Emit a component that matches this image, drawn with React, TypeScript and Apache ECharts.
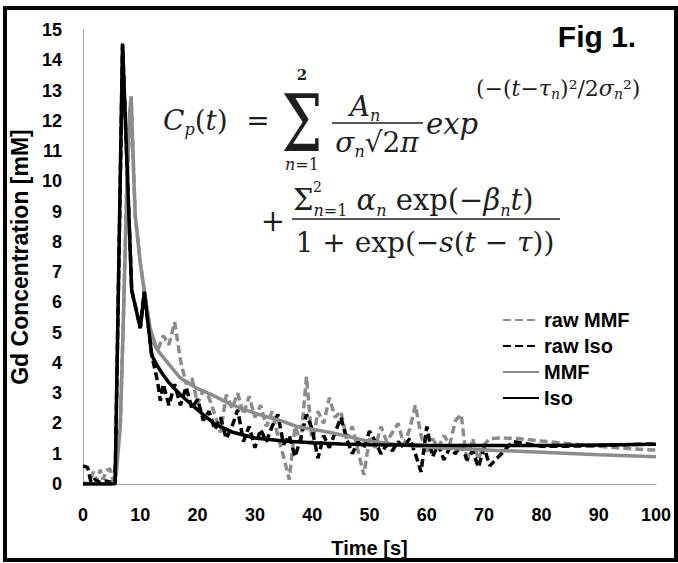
import React, { useEffect, useRef } from "react";
import * as echarts from "echarts";

// ---- data ----
const isoTime = [0, 1, 2, 3, 4, 5, 5.6, 6.9, 8.5, 10, 10.7, 12, 13, 14, 15, 17, 20, 23, 26, 30, 35, 40, 45, 50, 60, 70, 80, 90, 100];
const isoConc = [0, 0, 0, 0, 0, 0, 0, 14.55, 6.4, 5.15, 6.35, 4.25, 3.9, 3.6, 3.35, 2.95, 2.45, 1.98, 1.72, 1.52, 1.42, 1.36, 1.32, 1.3, 1.28, 1.27, 1.27, 1.29, 1.31];

const mmfTime = [0, 1, 2, 3, 4, 5, 5.8, 6.5, 7, 7.6, 8.1, 8.4, 8.8, 9.1, 10, 11, 11.7, 12.9, 15, 17, 20, 22.8, 25.7, 28.6, 31.5, 34.4, 37.3, 43.2, 49, 55, 60.7, 72.3, 80, 90, 100];
const mmfConc = [0, 0, 0, 0, 0, 0, 0.3, 1.9, 5.1, 9.5, 12.2, 12.8, 10.5, 8.9, 7.3, 6.0, 5.15, 4.45, 3.95, 3.5, 3.15, 2.92, 2.64, 2.43, 2.25, 2.1, 1.9, 1.7, 1.45, 1.3, 1.21, 1.11, 1.05, 0.97, 0.9];

const rawIsoTime = [0, 0.8, 1.4, 2, 3, 4, 5, 5.6, 6.9, 8.5, 10, 10.7, 12, 13, 13.5, 14, 15, 16, 17, 18, 19, 20, 21, 22, 23, 24, 25, 26, 27, 28, 29, 30, 31, 32, 33, 34, 35, 36, 37, 38, 39, 40, 41, 42, 43, 44, 45, 46, 47, 48, 49, 50, 51, 52, 53, 54, 55, 56, 57, 58, 59, 60, 61, 62, 63, 64, 65, 66, 67, 68, 69, 70, 71, 75, 80, 85, 90, 95, 100];
const rawIsoConc = [0.6, 0.55, 0.05, 0.15, 0.05, 0.1, 0.05, 0, 14.5, 6.4, 5.15, 6.35, 4.25, 3.4, 2.75, 3.3, 2.6, 3.3, 2.6, 3.2, 2.5, 2.8, 2.1, 2.4, 1.8, 2.2, 1.5, 1.9, 2.45, 1.4, 1.9, 1.2, 1.8, 1.4, 1.9, 2.3, 1.3, 1.6, 0.9, 1.5, 2.3, 1.8, 0.85, 1.6, 1.2, 1.7, 2.2, 1.5, 1.0, 1.4, 1.2, 1.75, 1.4, 1.0, 1.3, 1.1, 1.4, 1.2, 1.5, 1.0, 0.4, 1.9, 0.9, 1.3, 0.8, 1.2, 1.0, 1.3, 0.8, 1.1, 0.55, 1.2, 0.6, 1.4, 1.25, 1.25, 1.27, 1.3, 1.32, 1.36];

const rawMmfTime = [0, 1, 1.8, 2.4, 3, 3.5, 4.1, 4.7, 5.3, 6.5, 7, 7.6, 8.4, 9.1, 10, 11, 12, 13, 14, 15, 16, 17, 18, 19, 20, 21, 22, 23, 24, 25, 26, 27, 28, 29, 30, 31, 32, 33, 34, 35, 36, 37, 38, 39, 40, 41, 42, 43, 44, 45, 46, 47, 48, 49, 50, 51, 52, 53, 54, 55, 56, 57, 58, 59, 60, 61, 62, 63, 64, 65, 66, 67, 68, 69, 70, 71, 73, 76, 80, 85, 90, 95, 100];
const rawMmfConc = [0.05, 0, 0.4, 0.1, 0.47, 0.15, 0.45, 0.5, 0.1, 1.9, 5.1, 9.5, 12.8, 8.9, 7.3, 6.0, 4.8, 4.4, 4.9, 4.6, 5.35, 4.1, 3.3, 3.5, 2.65, 3.1, 2.85, 2.3, 1.7, 2.95, 2.5, 3.0, 2.3, 2.9, 2.2, 2.6, 1.9, 2.4, 1.6, 0.9, 0.15, 1.9, 1.4, 3.55, 1.3, 2.4, 2.0, 2.85, 2.2, 2.4, 1.5, 1.9, 1.1, 0.3, 1.5, 1.2, 1.9, 1.4, 1.7, 2.0, 1.3, 1.8, 2.6, 1.6, 1.0, 1.5, 1.2, 1.6, 1.3, 2.1, 2.3, 0.7, 1.5, 0.8, 1.3, 1.5, 1.52, 1.5, 1.42, 1.33, 1.25, 1.17, 1.12];

const seriesNames = ["raw MMF", "raw Iso", "MMF", "Iso"];
const xTicks = { min: 0, max: 100, step: 10 };
const yTicks = { min: 0, max: 15, step: 1 };

const zip = (t: number[], v: number[]) => t.map((x, i) => [x, v[i]]);

const GRAY = "#8c8c8c";
const MF = "DejaVu Serif";
const INK = "#1e1e1e";
const SANS = "Liberation Sans, Arial, sans-serif";

const richBase = (size: number) => ({
  n: { fontFamily: MF, fontSize: size, lineHeight: size + 7, verticalAlign: "middle", fill: INK },
  i: { fontFamily: MF, fontSize: size, fontStyle: "italic", lineHeight: size + 7, verticalAlign: "middle", fill: INK },
  sb: { fontFamily: MF, fontSize: 16, fontStyle: "italic", lineHeight: 16, verticalAlign: "bottom", fill: INK },
  sbn: { fontFamily: MF, fontSize: 16, lineHeight: 16, verticalAlign: "bottom", fill: INK },
});

function txt(x: number, y: number, text: string, size: number, align = "left", extra: any = {}) {
  return {
    type: "text",
    x,
    y,
    z: 50,
    ...extra,
    style: {
      text,
      align,
      verticalAlign: "middle",
      fill: INK,
      fontFamily: MF,
      fontSize: size,
      rich: richBase(size),
      ...(extra.style || {}),
    },
  };
}

export default function App() {
  const ref = useRef<HTMLDivElement>(null);
  useEffect(() => {
    if (!ref.current) return;
    const chart = echarts.init(ref.current, null, { renderer: "svg" });
    const supRich = {
      s: { fontFamily: MF, fontSize: 22, lineHeight: 26, verticalAlign: "middle", fill: INK },
      si: { fontFamily: MF, fontSize: 22, fontStyle: "italic", lineHeight: 26, verticalAlign: "middle", fill: INK },
      ss: { fontFamily: MF, fontSize: 14, fontStyle: "italic", lineHeight: 14, verticalAlign: "bottom", fill: INK },
    };
    const graphic: any[] = [
      // frame
      { type: "rect", z: 100, shape: { x: 5, y: 8, width: 671, height: 552 }, style: { fill: "none", stroke: "#000", lineWidth: 4 } },
      // title
      { type: "text", x: 597, y: 36, z: 50, style: { text: "Fig 1.", align: "center", verticalAlign: "middle", fontFamily: SANS, fontWeight: "bold", fontSize: 30, fill: "#000" } },
      // formula line 1
      txt(163, 120, "{i|C}{sb|p}{n|(}{i|t}{n|)}", 28),
      txt(258, 120, "{n|=}", 28, "center"),
      { type: "text", x: 302, y: 124, scaleY: 1.35, z: 50, style: { text: "Σ", align: "center", verticalAlign: "middle", fontFamily: MF, fontSize: 58, fill: INK } },
      txt(302, 75, "{n|2}", 15, "center", { style: { rich: { n: { fontFamily: MF, fontSize: 15, fontWeight: "bold", fill: INK, verticalAlign: "middle" } } } }),
      txt(302, 164, "{a|n}{b|=1}", 16, "center", { style: { rich: { a: { fontFamily: MF, fontSize: 16, fontStyle: "italic", fill: INK }, b: { fontFamily: MF, fontSize: 16, fill: INK } } } }),
      txt(365, 106, "{i|A}{sb|n}", 28, "center"),
      { type: "line", z: 50, shape: { x1: 332, y1: 123, x2: 423, y2: 123 }, style: { stroke: INK, lineWidth: 1.5 } },
      txt(377, 142, "{i|σ}{sb|n}{n|√2}{i|π}", 28, "center"),
      txt(426, 124, "{i|exp}", 29),
      { type: "text", x: 476, y: 88, z: 50, style: { text: "{s|(−(}{si|t}{s|−}{si|τ}{ss|n}{s|)²/2}{si|σ}{ss|n}{s|²)}", align: "left", verticalAlign: "middle", rich: supRich } },
      // formula line 2
      txt(273, 221, "{n|+}", 29, "center"),
      txt(293, 200, "{n|Σ}{sb|n}{sbn|=1}{n| }{i|α}{sb|n}{n| exp(−}{i|β}{sb|n}{i|t}{n|)}", 29),
      txt(313, 187, "{n|2}", 14, "left", { style: { rich: { n: { fontFamily: MF, fontSize: 14, fill: INK, verticalAlign: "middle" } } } }),
      { type: "line", z: 50, shape: { x1: 292, y1: 219, x2: 560, y2: 219 }, style: { stroke: INK, lineWidth: 1.5 } },
      txt(425, 242, "{n|1 + exp(−}{i|s}{n|(}{i|t}{n| − }{i|τ}{n|))}", 28, "center"),
    ];

    const dashed = [8, 4];
    chart.setOption({
      animation: false,
      backgroundColor: "#fff",
      grid: { left: 83, right: 22, top: 30, bottom: 77 },
      legend: {
        data: seriesNames,
        orient: "vertical",
        left: 502,
        top: 310,
        padding: 0,
        itemWidth: 36,
        itemHeight: 14,
        itemGap: 6,
        itemStyle: { opacity: 0 },
        textStyle: { fontFamily: SANS, fontSize: 20, fontWeight: "bold", color: "#000", lineHeight: 20 },
      },
      xAxis: {
        type: "value",
        min: xTicks.min,
        max: xTicks.max,
        interval: xTicks.step,
        axisLine: { show: true, lineStyle: { color: "#a6a6a6", width: 1 } },
        axisTick: { show: false },
        splitLine: { show: false },
        axisLabel: { fontFamily: SANS, fontSize: 18, fontWeight: "bold", color: "#000", margin: 22 },
        name: "Time [s]",
        nameLocation: "middle",
        nameGap: 54,
        nameTextStyle: { fontFamily: SANS, fontSize: 20, fontWeight: "bold", color: "#000" },
      },
      yAxis: {
        type: "value",
        min: yTicks.min,
        max: yTicks.max,
        interval: yTicks.step,
        axisLine: { show: true, lineStyle: { color: "#a6a6a6", width: 1 } },
        axisTick: { show: false },
        splitLine: { show: false },
        axisLabel: { fontFamily: SANS, fontSize: 18, fontWeight: "bold", color: "#000", margin: 21 },
        name: "Gd Concentration [mM]",
        nameLocation: "middle",
        nameGap: 47,
        nameRotate: 90,
        nameTextStyle: { fontFamily: SANS, fontSize: 23, fontWeight: "bold", color: "#000" },
      },
      series: [
        { name: "raw MMF", type: "line", data: zip(rawMmfTime, rawMmfConc), symbol: "none", showSymbol: false, lineStyle: { color: GRAY, width: 3.5, type: dashed }, itemStyle: { color: GRAY }, z: 2 },
        { name: "raw Iso", type: "line", data: zip(rawIsoTime, rawIsoConc), symbol: "none", showSymbol: false, lineStyle: { color: "#000", width: 3.5, type: dashed }, itemStyle: { color: "#000" }, z: 3 },
        { name: "MMF", type: "line", data: zip(mmfTime, mmfConc), symbol: "none", showSymbol: false, lineStyle: { color: GRAY, width: 3.5 }, itemStyle: { color: GRAY }, z: 4 },
        { name: "Iso", type: "line", data: zip(isoTime, isoConc), symbol: "none", showSymbol: false, lineStyle: { color: "#000", width: 3.5 }, itemStyle: { color: "#000" }, z: 5 },
      ],
      graphic,
    });
    return () => chart.dispose();
  }, []);
  return <div ref={ref} style={{ position: "absolute", left: 0, top: 0, width: 678, height: 563 }} />;
}
